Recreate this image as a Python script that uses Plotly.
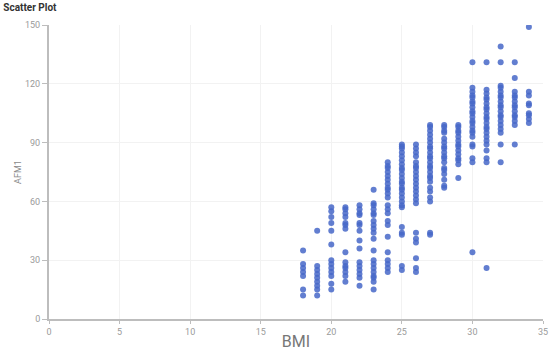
import plotly.graph_objects as go

# AFM1 values read per BMI column
BMI_LEVELS = [18, 19, 20, 21, 22, 23, 24, 25, 26, 27, 28, 29, 30, 31, 32, 33, 34]
AFM1_BY_BMI = {
    18: [35, 28, 26, 24, 22, 15, 12],
    19: [45, 27, 25, 23, 21, 19, 17, 15, 12],
    20: [57, 55, 52, 49, 45, 38, 30, 28, 26, 24, 22, 18, 15],
    21: [57, 56, 54, 52, 49, 48, 46, 34, 29, 27, 26, 24, 22, 19],
    22: [58, 56, 54, 53, 49, 48, 45, 40, 36, 29, 27, 25, 23, 21, 17],
    23: [66, 59, 58, 56, 54, 53, 50, 48, 46, 44, 41, 35, 30, 28, 26, 24, 22, 21, 19, 15],
    24: [80, 78, 77, 75, 73, 71, 69, 67, 66, 64, 62, 58, 56, 54, 50, 48, 42, 34, 30, 28, 26, 24],
    25: [89, 88, 87, 85, 83, 81, 79, 77, 76, 74, 72, 70, 69, 67, 66, 64, 62, 60, 58, 57,
         47, 44, 43, 27, 25],
    26: [89, 87, 85, 83, 80, 78, 77, 75, 73, 71, 69, 67, 65, 63, 61, 59, 44, 41, 39, 31, 26, 24],
    27: [99, 98, 96, 94, 92, 90, 88, 87, 85, 83, 82, 80, 78, 77, 75, 73, 72, 70, 67, 65,
         62, 60, 44, 43],
    28: [99, 98, 96, 95, 92, 90, 88, 87, 85, 83, 82, 80, 77, 76, 74, 71, 68, 67],
    29: [99, 98, 96, 95, 93, 91, 89, 88, 86, 84, 82, 81, 79, 72],
    30: [131, 118, 116, 114, 113, 111, 110, 108, 106, 105, 103, 101, 100, 98, 96, 95, 93,
         89, 88, 82, 80, 34],
    31: [131, 117, 115, 113, 112, 110, 108, 107, 105, 103, 102, 100, 98, 97, 95, 93, 91,
         89, 86, 82, 80, 26],
    32: [139, 131, 119, 118, 116, 114, 113, 111, 109, 108, 106, 104, 103, 101, 99, 97, 95,
         89, 80],
    33: [131, 123, 116, 114, 113, 111, 109, 108, 106, 104, 103, 101, 99, 89],
    34: [149, 116, 114, 110, 109, 105, 104, 102, 100],
}
X_TICKS = [0, 5, 10, 15, 20, 25, 30, 35]
Y_TICKS = [0, 30, 60, 90, 120, 150]

bmi = []
afm1 = []
for level in BMI_LEVELS:
    for v in AFM1_BY_BMI[level]:
        bmi.append(level)
        afm1.append(v)

AXIS_STYLE = dict(
    showline=True, linecolor="#bdbdbd", linewidth=2,
    showgrid=True, gridcolor="#f2f2f2", gridwidth=1,
    zeroline=False,
    ticks="outside", tickcolor="#bdbdbd", tickwidth=1,
    tickfont=dict(size=9, color="#9a9a9a"),
    automargin=False,
)

fig = go.Figure()
fig.add_trace(go.Scatter(
    x=bmi, y=afm1, mode="markers",
    marker=dict(size=6, color="#4667c8", opacity=0.85, line=dict(width=0)),
    showlegend=False,
))

fig.update_layout(
    width=550, height=351,
    margin=dict(l=49, r=7, t=25, b=32),
    paper_bgcolor="white", plot_bgcolor="white",
    font=dict(family="Roboto, Arial, sans-serif"),
    title=dict(text="<b>Scatter Plot</b>", x=0.006, xanchor="left",
               y=0.98, yanchor="middle",
               font=dict(size=10, color="#333333")),
)
fig.update_xaxes(
    **AXIS_STYLE, ticklen=3, range=[0, 35], tickvals=X_TICKS,
    title=dict(text="BMI", font=dict(size=16, color="#777777"), standoff=9),
)
fig.update_yaxes(
    **AXIS_STYLE, ticklen=5, range=[0, 150], tickvals=Y_TICKS,
    title=dict(text="AFM1", font=dict(size=9, color="#8a8a8a"), standoff=2),
)

# the page's default body margin would shift the chart by 8px
fig.write_html("out.html", config={"displayModeBar": False},
               post_script="document.body.style.margin='0';")
